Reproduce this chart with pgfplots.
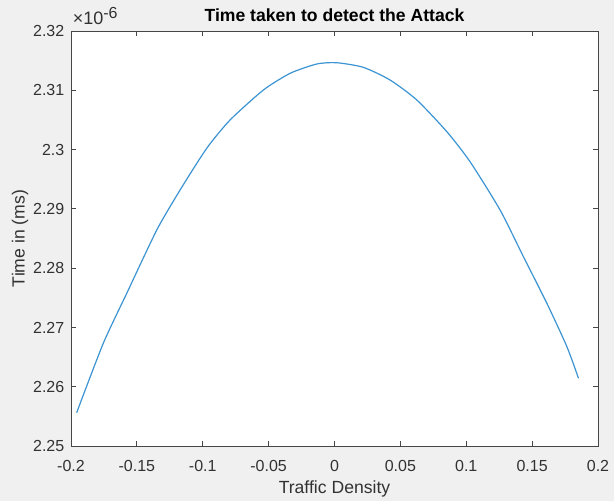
\documentclass[border=0pt]{standalone}
\usepackage{fontspec}
\setmainfont{Liberation Sans}
\usepackage{pgfplots}
\pgfplotsset{compat=1.18}
\definecolor{figbg}{RGB}{240,240,240}
\definecolor{axcol}{RGB}{70,70,70}
\definecolor{labcol}{RGB}{50,50,50}
\definecolor{mblue}{RGB}{60,148,210}
\begin{document}
\begin{tikzpicture}
% figure background (614x501 px, 1px = 0.75pt)
\fill[figbg] (-53.25pt,-41.25pt) rectangle (407.25pt,334.5pt);
\begin{axis}[
  scale only axis, width=395.25pt, height=311.25pt,
  xmin=-0.2, xmax=0.2, ymin=2.25, ymax=2.32,
  xtick={-0.2,-0.15,-0.1,-0.05,0,0.05,0.1,0.15,0.2},
  ytick={2.25,2.26,2.27,2.28,2.29,2.3,2.31,2.32},
  scaled ticks=false, clip=false,
  tick align=inside, major tick length=3.5pt,
  axis line style={axcol, line width=0.7pt},
  tick style={axcol, line width=0.7pt},
  axis background/.style={fill=white},
  /pgf/number format/assume math mode=true,
  /pgf/number format/fixed, /pgf/number format/precision=2,
  tick label style={font=\fontsize{12}{14}\selectfont, text=labcol},
  xticklabel style={yshift=-7pt},
  yticklabel style={xshift=-1.5pt},
  every axis title shift=0pt,
  title={\bfseries Time taken to detect the Attack},
  title style={at={(axis description cs:0.5,1.0224)}, anchor=base, font=\fontsize{13.2}{15}\selectfont},
  xlabel={Traffic Density},
  xlabel style={at={(axis description cs:0.5,-0.1133)}, anchor=base, font=\fontsize{13.2}{15}\selectfont, text=labcol},
  ylabel={Time in (ms)},
  ylabel style={at={(axis description cs:-0.0882,0.5)}, anchor=base, font=\fontsize{13.2}{15}\selectfont, text=labcol},
]
\addplot[mblue, line width=0.9pt, smooth, tension=0.4] coordinates {
  (-0.1957,2.25562) (-0.1755,2.26732) (-0.1577,2.27575) (-0.1349,2.28643)
  (-0.1172,2.29318) (-0.0970,2.30021) (-0.0793,2.30498) (-0.0540,2.31004)
  (-0.0337,2.31286) (-0.0135,2.31443) (0.0017,2.31465) (0.0219,2.31387)
  (0.0422,2.31173) (0.0625,2.30836) (0.0853,2.30301) (0.1029,2.29795)
  (0.1257,2.28980) (0.1434,2.28193) (0.1612,2.27407) (0.1764,2.26675)
  (0.1852,2.26142)
};
\node[anchor=base west, text=labcol, font=\fontsize{13.5}{15}\selectfont, inner sep=0pt]
  at (axis description cs:0.003,1.0145) {×10\textsuperscript{\fontsize{12}{14}\selectfont -6}};
\end{axis}
\pgfresetboundingbox
\path (-53.25pt,-41.25pt) rectangle (407.25pt,334.5pt);
\end{tikzpicture}
\end{document}
